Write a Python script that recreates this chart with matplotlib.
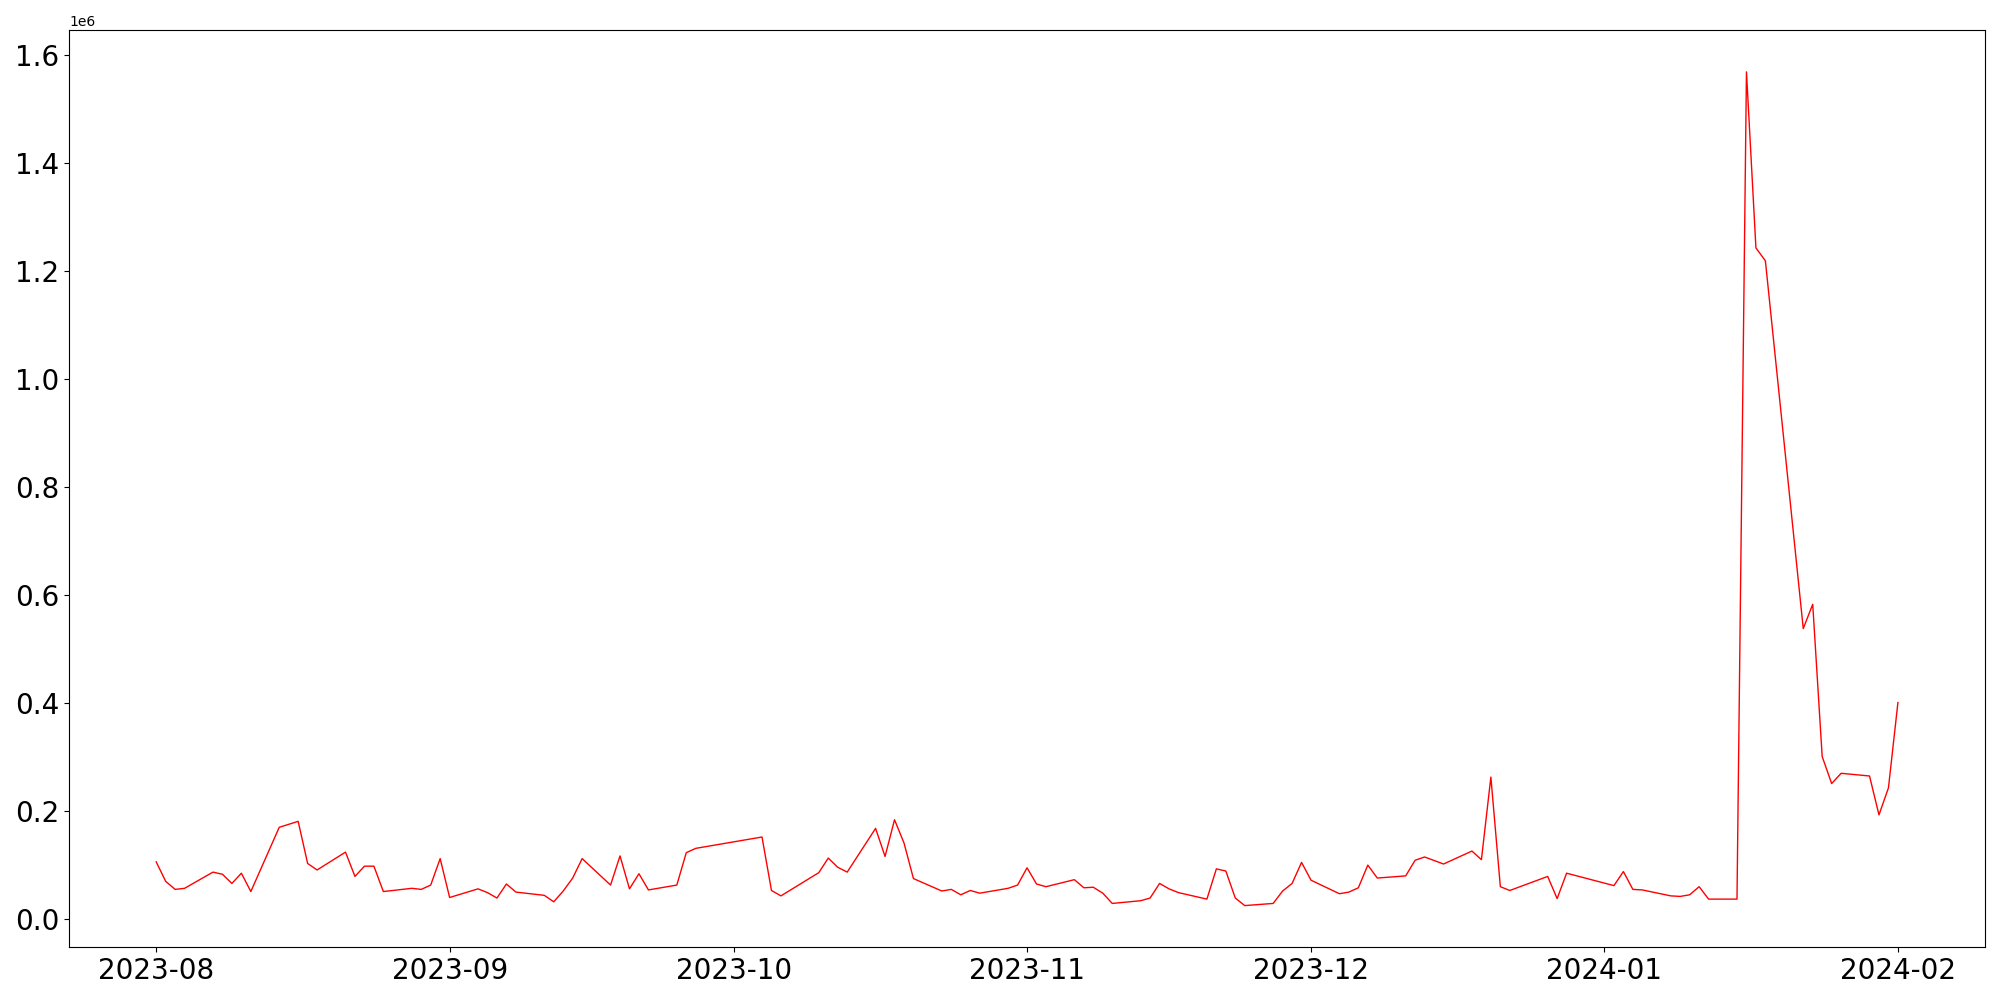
import pandas as pd
import numpy as np
from matplotlib import pyplot as plt

# trading days and daily values
dates = [
    "2023-08-01", "2023-08-02", "2023-08-03", "2023-08-04",
    "2023-08-07", "2023-08-08", "2023-08-09", "2023-08-10", "2023-08-11",
    "2023-08-14", "2023-08-16", "2023-08-17", "2023-08-18",
    "2023-08-21", "2023-08-22", "2023-08-23", "2023-08-24", "2023-08-25",
    "2023-08-28", "2023-08-29", "2023-08-30", "2023-08-31", "2023-09-01",
    "2023-09-04", "2023-09-05", "2023-09-06", "2023-09-07", "2023-09-08",
    "2023-09-11", "2023-09-12", "2023-09-13", "2023-09-14", "2023-09-15",
    "2023-09-18", "2023-09-19", "2023-09-20", "2023-09-21", "2023-09-22",
    "2023-09-25", "2023-09-26", "2023-09-27",
    "2023-10-04", "2023-10-05", "2023-10-06",
    "2023-10-10", "2023-10-11", "2023-10-12", "2023-10-13",
    "2023-10-16", "2023-10-17", "2023-10-18", "2023-10-19", "2023-10-20",
    "2023-10-23", "2023-10-24", "2023-10-25", "2023-10-26", "2023-10-27",
    "2023-10-30", "2023-10-31", "2023-11-01", "2023-11-02", "2023-11-03",
    "2023-11-06", "2023-11-07", "2023-11-08", "2023-11-09", "2023-11-10",
    "2023-11-13", "2023-11-14", "2023-11-15", "2023-11-16", "2023-11-17",
    "2023-11-20", "2023-11-21", "2023-11-22", "2023-11-23", "2023-11-24",
    "2023-11-27", "2023-11-28", "2023-11-29", "2023-11-30", "2023-12-01",
    "2023-12-04", "2023-12-05", "2023-12-06", "2023-12-07", "2023-12-08",
    "2023-12-11", "2023-12-12", "2023-12-13", "2023-12-15",
    "2023-12-18", "2023-12-19", "2023-12-20", "2023-12-21", "2023-12-22",
    "2023-12-26", "2023-12-27", "2023-12-28",
    "2024-01-02", "2024-01-03", "2024-01-04", "2024-01-05",
    "2024-01-08", "2024-01-09", "2024-01-10", "2024-01-11", "2024-01-12",
    "2024-01-15", "2024-01-16", "2024-01-17", "2024-01-18",
    "2024-01-22", "2024-01-23", "2024-01-24", "2024-01-25", "2024-01-26",
    "2024-01-29", "2024-01-30", "2024-01-31", "2024-02-01",
]
values = [
    105000, 69000, 54000, 56000,
    86000, 82000, 65000, 84000, 50000,
    169000, 180000, 102000, 90000,
    123000, 78000, 97000, 97000, 50000,
    56000, 54000, 62000, 111000, 39000,
    55000, 48000, 38000, 64000, 49000,
    43000, 31000, 51000, 75000, 111000,
    62000, 116000, 55000, 83000, 53000,
    62000, 122000, 130000,
    151000, 52000, 42000,
    85000, 112000, 95000, 86000,
    167000, 115000, 183000, 140000, 74000,
    51000, 54000, 44000, 52000, 47000,
    56000, 62000, 94000, 64000, 59000,
    72000, 57000, 58000, 47000, 28000,
    33000, 38000, 65000, 55000, 48000,
    36000, 92000, 88000, 38000, 24000,
    28000, 51000, 65000, 104000, 71000,
    46000, 49000, 57000, 99000, 75000,
    79000, 108000, 114000, 101000,
    125000, 109000, 262000, 59000, 52000,
    78000, 37000, 84000,
    61000, 87000, 54000, 53000,
    42000, 41000, 44000, 59000, 36000,
    36000, 1568000, 1242000, 1218000,
    537000, 582000, 300000, 250000, 269000,
    264000, 192000, 242000, 400000,
]

df = pd.DataFrame({"date": pd.to_datetime(dates), "value": values})

fig, ax = plt.subplots(figsize=(20, 10), dpi=100)
ax.plot(df["date"], df["value"], color="red", linewidth=1)
ax.tick_params(labelsize=20)
fig.tight_layout()
fig.savefig("out.png")
